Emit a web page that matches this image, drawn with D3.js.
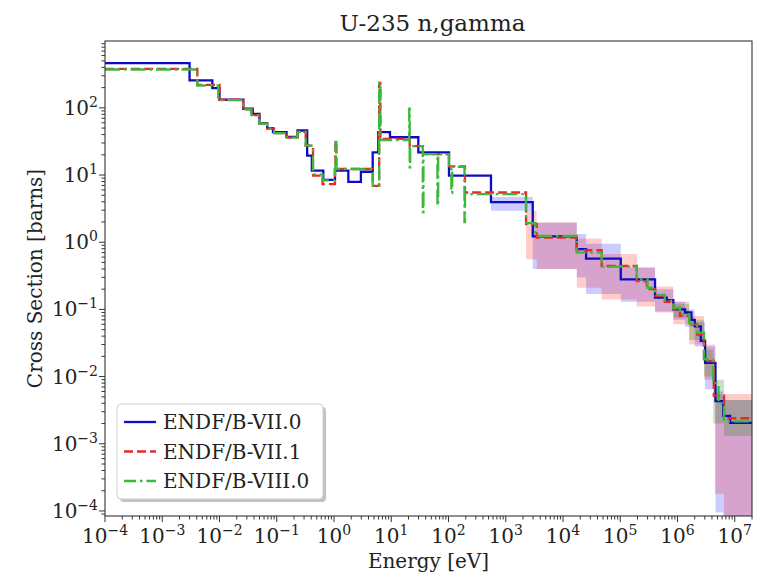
<!DOCTYPE html>
<html><head><meta charset="utf-8">
<script src="https://cdn.jsdelivr.net/npm/d3@7"></script>
<style>body{margin:0;background:#fff} svg{display:block} text{font-family:"DejaVu Serif",serif;fill:#222}</style>
</head><body><svg id="c" width="768" height="577"></svg>
<script>
// ---------- DATA ----------
const seriesNames = ["ENDF/B-VII.0", "ENDF/B-VII.1", "ENDF/B-VIII.0"];
const xTickExps = [-4,-3,-2,-1,0,1,2,3,4,5,6,7];
const yTickExps = [-4,-3,-2,-1,0,1,2];

// ENDF/B-VII.0 group edges (eV) and cross sections (b)
const blueE = [1e-4,3.0e-3,7.5e-3,0.01,0.026,0.038,0.05,0.068,0.086,0.148,0.23,0.34,0.41,0.65,1.04,1.78,2.95,4.74,5.94,9.5,29.7,102,552,2960,17400,25300,102000,405000,648000,845000,1.35e6,1.75e6,2.0e6,2.55e6,3.03e6,4.6e6,6.3e6,8.3e6,2e7];
const blueXS = [464,256,197,132,97,81,59,50,43.5,37,46,19.5,11.6,8.5,11.6,7.9,11.2,21.8,43.4,36.5,21.8,9.8,3.95,1.22,0.787,0.57,0.28,0.15,0.137,0.10,0.09,0.07,0.056,0.034,0.016,0.0043,0.0026,0.00204];

// ENDF/B-VII.1
const redE = [1e-4,4.1e-3,0.01,0.026,0.036,0.05,0.068,0.09,0.15,0.23,0.32,0.43,0.63,1.04,1.06,1.10,4.74,6.15,6.45,21.0,36,102,194,2260,3470,17400,47400,194000,290000,405000,600000,845000,1.1e6,1.6e6,2.2e6,2.9e6,4.3e6,6.5e6,2e7];
const redXS = [381,220,132,95,78,58,49,42,36,44,27.4,9.8,7.3,12.3,31,12.3,6.9,236,34.5,27,20.5,13.5,5.5,1.86,1.17,0.76,0.443,0.264,0.2,0.16,0.13,0.1,0.08,0.06,0.042,0.017,0.0052,0.0024];

// ENDF/B-VIII.0
const greenE = [1e-4,4.1e-3,0.0095,0.026,0.036,0.05,0.068,0.09,0.15,0.23,0.32,0.43,0.63,1.04,1.06,1.10,4.74,6.15,6.45,20.6,21.0,21.4,35.5,36.5,64,66,102,112,116,190,194,2260,3300,17400,47400,194000,300000,405000,600000,845000,1.1e6,1.6e6,2.2e6,2.9e6,4.2e6,5.2e6,6.5e6,2e7];
const greenXS = [372,215,130,95,78,58,49,42,36,44,27.4,10.2,8.3,12.3,31,12.3,6.9,236,33,97,13,27,2.8,20.5,3.5,20.5,13.2,5.4,13.2,2.0,5.2,1.92,1.24,0.70,0.434,0.28,0.21,0.165,0.135,0.105,0.085,0.062,0.045,0.018,0.008,0.004,0.00215];

// uncertainty bands
const blueBandE = [552,2960,17400,25300,102000,405000,845000,1.35e6,2.0e6,3.03e6,4.6e6,6.3e6,2e7];
const blueLo = [2.93,0.40,0.30,0.17,0.13,0.093,0.07,0.055,0.028,0.0065,9.5e-5,5e-5];
const blueHi = [4.7,1.95,1.32,0.95,0.42,0.20,0.13,0.10,0.065,0.028,0.006,0.0045];

const redBandE = [2260,3470,17400,47400,194000,405000,845000,1.6e6,2.9e6,4.5e6,6.5e6,2e7];
const redLo = [0.56,0.40,0.21,0.14,0.11,0.09,0.06,0.03,0.009,1.8e-4,5e-5];
const redHi = [2.93,1.99,1.14,0.67,0.42,0.22,0.13,0.08,0.03,0.0055,0.0055];

const greenBandE = [845000,1.6e6,2.9e6,4.2e6,6.5e6,2e7];
const greenLo = [0.075,0.035,0.01,0.002,0.0013];
const greenHi = [0.12,0.07,0.025,0.009,0.0045];

// ---------- CHART ----------
const L=105,R=752,T=41,B=516;
const svg=d3.select("#c");
const x=d3.scaleLog().domain([1e-4,2e7]).range([L,R]);
const y=d3.scaleLog().domain([Math.pow(10,-4.075),Math.pow(10,2.995)]).range([B,T]);

svg.append("defs").append("clipPath").attr("id","clip")
  .append("rect").attr("x",L).attr("y",T).attr("width",R-L).attr("height",B-T);
const plot=svg.append("g").attr("clip-path","url(#clip)");

const colors={blue:"#0c0cc4",red:"#e8282c",green:"#3cb83c"};

function bandPts(E,lo,hi){return E.map((e,i)=>({e,lo:lo[Math.min(i,lo.length-1)],hi:hi[Math.min(i,hi.length-1)]}));}
const area=d3.area().curve(d3.curveStepAfter).x(d=>x(d.e)).y0(d=>y(d.lo)).y1(d=>y(d.hi));
[[blueBandE,blueLo,blueHi,"#0000ff",0.2],[redBandE,redLo,redHi,"#ff0000",0.2],[greenBandE,greenLo,greenHi,"#008000",0.22]]
.forEach(([E,lo,hi,c,a])=>{
  plot.append("path").attr("d",area(bandPts(E,lo,hi))).attr("fill",c).attr("fill-opacity",a).attr("stroke","none");
});

function stepPts(E,v){return E.map((e,i)=>[e,v[Math.min(i,v.length-1)]]);}
const line=d3.line().curve(d3.curveStepAfter).x(d=>x(d[0])).y(d=>y(d[1]));
const styles=[
  [blueE,blueXS,colors.blue,null],
  [redE,redXS,colors.red,"9,4"],
  [greenE,greenXS,colors.green,"15,4,2.5,4"]
];
styles.forEach(([E,v,c,dash])=>{
  plot.append("path").attr("d",line(stepPts(E,v))).attr("fill","none")
    .attr("stroke",c).attr("stroke-width",2.3).attr("stroke-dasharray",dash);
});

// frame
svg.append("rect").attr("x",L).attr("y",T).attr("width",R-L).attr("height",B-T)
  .attr("fill","none").attr("stroke","#333").attr("stroke-width",1.1);

// ticks
const tk=svg.append("g").attr("stroke","#333").attr("stroke-width",1);
function minor(domain){
  const out=[]; const [a,b]=domain;
  for(let k=Math.floor(Math.log10(a))-1;k<=Math.ceil(Math.log10(b));k++){
    for(let m=2;m<=9;m++){const v=m*Math.pow(10,k); if(v>=a&&v<=b) out.push(v);}
  }
  return out;
}
xTickExps.forEach(k=>{const px=x(Math.pow(10,k)); tk.append("line").attr("x1",px).attr("x2",px).attr("y1",B).attr("y2",B+6);});
minor(x.domain()).forEach(v=>{const px=x(v); tk.append("line").attr("x1",px).attr("x2",px).attr("y1",B).attr("y2",B+3.5);});
yTickExps.forEach(k=>{const py=y(Math.pow(10,k)); tk.append("line").attr("x1",L).attr("x2",L-6).attr("y1",py).attr("y2",py);});
minor(y.domain()).forEach(v=>{const py=y(v); tk.append("line").attr("x1",L).attr("x2",L-3.5).attr("y1",py).attr("y2",py);});

function powLabel(g,px,py,k,anchor){
  const t=g.append("text").attr("x",px).attr("y",py).attr("text-anchor",anchor).attr("font-size",20);
  t.append("tspan").text("10");
  t.append("tspan").attr("dy",-8).attr("font-size",14).text(String(k).replace("-","\u2212"));
}
xTickExps.forEach(k=>powLabel(svg,x(Math.pow(10,k)),543,k,"middle"));
yTickExps.forEach(k=>powLabel(svg,98,y(Math.pow(10,k))+7,k,"end"));

// labels
svg.append("text").attr("x",(L+R)/2).attr("y",568).attr("text-anchor","middle").attr("font-size",20).text("Energy [eV]");
svg.append("text").attr("transform",`translate(42,${(T+B)/2}) rotate(-90)`).attr("text-anchor","middle").attr("font-size",20).text("Cross Section [barns]");
svg.append("text").attr("x",(L+R)/2+4).attr("y",31).attr("text-anchor","middle").attr("font-size",23).text("U-235 n,gamma");

// legend
const lg=svg.append("g");
lg.append("rect").attr("x",120).attr("y",407).attr("width",206).attr("height",95).attr("rx",4).attr("fill","#9a9a9a").attr("fill-opacity",0.6);
lg.append("rect").attr("x",117).attr("y",404).attr("width",206).attr("height",95).attr("rx",4).attr("fill","#fff").attr("stroke","#cfcfcf").attr("stroke-width",1);
const legRows=[[colors.blue,null],[colors.red,"9,4"],[colors.green,"12,4,2.5,4"]];
legRows.forEach(([c,dash],i)=>{
  const yy=422+i*29.5;
  lg.append("line").attr("x1",124).attr("x2",156).attr("y1",yy).attr("y2",yy).attr("stroke",c).attr("stroke-width",2.3).attr("stroke-dasharray",dash);
  lg.append("text").attr("x",163).attr("y",yy+7).attr("font-size",20).text(seriesNames[i]);
});
</script></body></html>
